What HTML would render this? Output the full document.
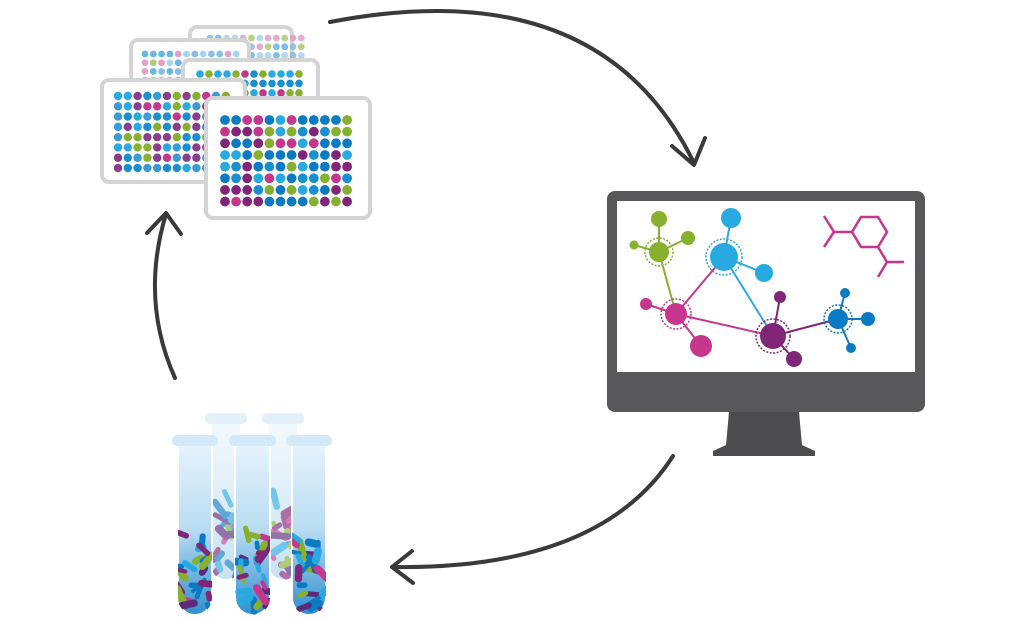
<!DOCTYPE html>
<html><head><meta charset="utf-8"><style>html,body{margin:0;padding:0;background:#fff}svg{display:block}</style></head>
<body>
<svg id="s" width="1024" height="621" viewBox="0 0 1024 621" xmlns="http://www.w3.org/2000/svg">
<defs>
<linearGradient id="tg" x1="0" y1="0" x2="0" y2="1"><stop offset="0" stop-color="#e6f3fb"/><stop offset="0.5" stop-color="#b9dcf2"/><stop offset="1" stop-color="#2f8fd0"/></linearGradient>
<linearGradient id="tg2" x1="0" y1="0" x2="0" y2="1"><stop offset="0" stop-color="#eef7fc"/><stop offset="1" stop-color="#a9d3ee"/></linearGradient>
<clipPath id="c1"><rect x="178" y="445" width="34" height="170" rx="17"/></clipPath>
<clipPath id="c2"><rect x="235" y="445" width="35" height="170" rx="17"/></clipPath>
<clipPath id="c3"><rect x="292" y="445" width="34" height="170" rx="17"/></clipPath>
<clipPath id="c4"><rect x="211" y="425" width="30" height="155" rx="15"/></clipPath>
<clipPath id="c5"><rect x="268" y="425" width="30" height="155" rx="15"/></clipPath>
</defs>
<g id="plates"></g>
<g fill="none" stroke="#3a3a3a" stroke-width="4" stroke-linecap="round" stroke-linejoin="round">
<path d="M330,22 Q600,-30 694,163"/><path d="M672,146 L694,165 L705,138"/>
<path d="M673,456 Q600,570 392,567"/><path d="M412,551 L392,567 L413,583"/>
<path d="M175,378 Q140,300 166,214"/><path d="M147,233 L166,213 L181,234"/>
</g>
<rect x="607" y="191" width="318" height="221" rx="8" fill="#58585a"/>
<rect x="617" y="201" width="298" height="171" fill="#fff"/>
<path d="M729,412 L799,412 L802,445 L815,451 L815,456 L713,456 L713,451 L726,445 Z" fill="#4d4d4f"/>
<g id="mol"></g>
<g id="tubes"></g>
<script>
var NS="http://www.w3.org/2000/svg";
function el(p,t,a){var e=document.createElementNS(NS,t);for(var k in a)e.setAttribute(k,a[k]);p.appendChild(e);return e;}
var seed=7;function r(){seed=(seed*16807)%2147483647;return (seed-1)/2147483646;}
var P=document.getElementById('plates');
var cols=["#0a7bc2","#0a7bc2","#29a9e1","#c5368d","#86b02e","#802577","#1a8fd0"];
function plate(x,y,w,h,wx,wy,st,rad,cs,light){
 el(P,'rect',{x:x,y:y,width:w,height:h,rx:7,fill:'#fff',stroke:'#d4d4d4','stroke-width':4});
 for(var i=0;i<8;i++)for(var j=0;j<12;j++){var c=cs[Math.floor(r()*cs.length)];
  el(P,'circle',{cx:wx+j*st,cy:wy+i*st*1.05,r:rad,fill:c,opacity:light||1});}
}
var lc=["#7ab8e0","#9ecfee","#a8c763","#e196c4","#5aaee0"];
plate(190,27,102,60,210,38,8.3,3.4,lc,0.8);
plate(131,40,118,60,145,54,8.3,3.4,lc,0.9);
plate(183,60,135,60,200,74,9,3.8,["#1a8fd0","#29a9e1","#c5368d","#86b02e","#29a9e1"]);
plate(102,80,143,102,118,96,9.8,4.2,["#1a8fd0","#29a9e1","#c5368d","#86b02e","#8a3d8f","#3a9ad6"]);
plate(206,98,164,120,225,120,11.1,4.9,cols);
var M=document.getElementById('mol');
function L(a,b,c,d,col){el(M,'line',{x1:a,y1:b,x2:c,y2:d,stroke:col,'stroke-width':2});}
function C(x,y,rr,col,ring){el(M,'circle',{cx:x,cy:y,r:rr,fill:col});if(ring)el(M,'circle',{cx:x,cy:y,r:ring,fill:'none',stroke:col,'stroke-width':1.5,'stroke-dasharray':'2 1.5'});}
var g="#86b02e",b="#29a9e1",m="#c5368d",p="#802577",d="#0a7bc2";
L(659,252,676,314,g);L(676,314,724,257,m);L(724,257,773,336,b);L(676,314,773,336,m);L(773,336,838,319,p);
L(659,252,659,219,g);L(659,252,688,238,g);L(659,252,634,245,g);
L(724,257,731,218,b);L(724,257,764,273,b);
L(676,314,646,304,m);L(676,314,701,346,m);
L(773,336,780,297,p);L(773,336,794,359,p);
L(838,319,845,293,d);L(838,319,868,319,d);L(838,319,851,348,d);
C(659,252,10,g,14);C(659,219,8,g);C(688,238,7,g);C(634,245,4.5,g);
C(724,257,14,b,18);C(731,218,10,b);C(764,273,9,b);
C(676,314,11,m,15);C(646,304,6,m);C(701,346,11,m);
C(773,336,13,p,17);C(780,297,6,p);C(794,359,8,p);
C(838,319,10,d,14);C(845,293,5,d);C(868,319,7,d);C(851,348,5,d);
el(M,'path',{d:"M824,216 L834,232 L824,247 M834,232 L852,232 L861,217 L878,217 L887,232 L878,247 L861,247 L852,232 M878,247 L887,262 L904,262 M887,262 L878,277",fill:'none',stroke:m,'stroke-width':2.5});
var T=document.getElementById('tubes');
var pc=["#802577","#c5368d","#0a7bc2","#29a9e1","#86b02e","#5b2a7a"];
function tube(x,capy,w,bot,clip,op,fill){
 var g2=el(T,'g',{opacity:op});
 var top=capy+9,rr=w/2;
 el(g2,'path',{d:'M'+x+','+top+' L'+x+','+(bot-rr)+' A'+rr+','+rr+' 0 0 0 '+(x+w)+','+(bot-rr)+' L'+(x+w)+','+top+' Z',fill:fill,stroke:'#fff','stroke-width':2});
 el(g2,'rect',{x:x-6,y:capy,width:w+12,height:11,rx:5,fill:'#d3e9f7'});
 var cg=el(g2,'g',{'clip-path':'url(#'+clip+')'});
 for(var k=0;k<24;k++){var cx=x+3+r()*(w-6),cy=bot-6-r()*(bot-capy)*0.42;var len=5+r()*12,ang=r()*6.28;
  el(cg,'line',{x1:cx,y1:cy,x2:cx+len*Math.cos(ang),y2:cy+len*Math.sin(ang),stroke:pc[Math.floor(r()*6)],'stroke-width':4+r()*4,'stroke-linecap':'round'});}
}
tube(211,413,30,580,'c4',0.65,'url(#tg2)');tube(268,413,30,580,'c5',0.65,'url(#tg2)');
tube(178,435,34,615,'c1',1,'url(#tg)');tube(235,435,35,615,'c2',1,'url(#tg)');tube(292,435,34,615,'c3',1,'url(#tg)');
</script>
</svg>
</body></html>
